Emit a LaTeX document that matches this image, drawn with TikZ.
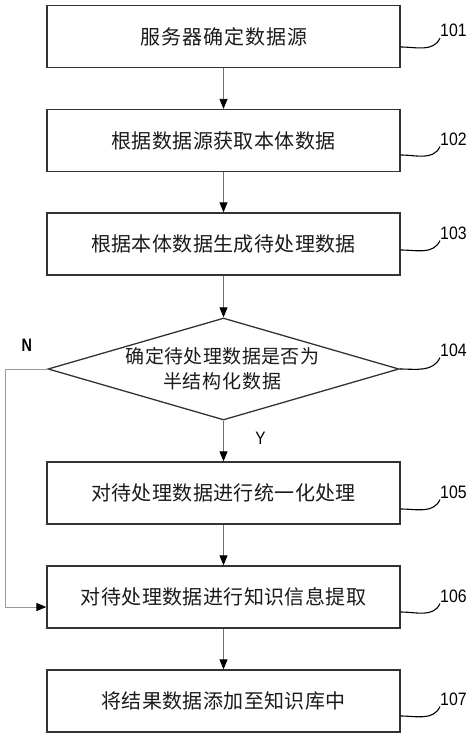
\documentclass[tikz,border=0pt]{standalone}
\usepackage{fontspec}
\setmainfont{Liberation Sans}
\newfontfamily\cjk{Noto Sans CJK SC}
\usetikzlibrary{shapes.geometric,arrows.meta}
\definecolor{boxc}{HTML}{333333}
\definecolor{linec}{HTML}{707070}
\definecolor{nlinec}{HTML}{9A9A9A}
\definecolor{txtc}{HTML}{1A1A1A}
\newlength\lsamt
\def\lsp#1#2{\setlength\lsamt{#1}\lspA#2\relax}
\def\lspA#1{\ifx#1\relax\unskip\else#1\hspace{\lsamt}\expandafter\lspA\fi}
\newcommand\numtxt[1]{\scalebox{0.88}[1]{#1}}
\begin{document}
\begin{tikzpicture}[x=1pt,y=-1pt,
  box/.style={draw=boxc,line width=1.3pt,minimum width=353pt,minimum height=62pt,inner sep=0pt,text=txtc,font=\fontsize{20}{24}\cjk},
  dia/.style={draw=boxc,line width=1.3pt,diamond,minimum width=351pt,minimum height=102pt,inner sep=0pt},
  dtxt/.style={inner sep=0pt,align=center,text=txtc,font=\fontsize{19}{25.5}\cjk},
  num/.style={font=\fontsize{18}{20}\selectfont,anchor=west,inner sep=0pt},
  yn/.style={font=\fontsize{18}{20}\selectfont,inner sep=0pt},
  arr/.style={draw=linec,line width=0.9pt,-{Triangle[length=10pt,width=8pt,color=black]}},
  narr/.style={draw=nlinec,line width=0.9pt,-{Triangle[length=10pt,width=8pt,color=black]}},
  leader/.style={draw=black,line width=1.1pt}]
\useasboundingbox (0,0) rectangle (474,738);

\node[box] (b1) at (223.5,36.5) {\lsp{1.0pt}{服务器确定数据源}};
\node[box] (b2) at (223.5,140.5) {\lsp{0.4pt}{根据数据源获取本体数据}};
\node[box] (b3) at (223.5,244) {\lsp{0.4pt}{根据本体数据生成待处理数据}};
\node[dia] (d) at (223.5,369) {};
\node[dtxt] (dt) at (222.5,368.5) {\lsp{0.4pt}{确定待处理数据是否为}\\\lsp{1.0pt}{半结构化数据}};
\node[box] (b5) at (223.5,493) {\lsp{0.4pt}{对待处理数据进行统一化处理}};
\node[box] (b6) at (223.5,597) {\lsp{0.4pt}{对待处理数据进行知识信息提取}};
\node[box] (b7) at (223.5,701) {\lsp{0.4pt}{将结果数据添加至知识库中}};

\node[num] (l1) at (440,30.5) {\numtxt{101}};
\node[num] (l2) at (440,139) {\numtxt{102}};
\node[num] (l3) at (440,233) {\numtxt{103}};
\node[num] (l4) at (440,350) {\numtxt{104}};
\node[num] (l5) at (440,492) {\numtxt{105}};
\node[num] (l6) at (440,596) {\numtxt{106}};
\node[num] (l7) at (440,699) {\numtxt{107}};

\node[yn,font=\fontsize{18}{20}\bfseries] (n) at (26.7,345.7) {\scalebox{0.8}[1]{N}};
\node[yn] (y) at (260.5,438.7) {\scalebox{0.85}[1]{Y}};

\draw[arr] (b1) -- (b2);
\draw[arr] (b2) -- (b3);
\draw[arr] (b3) -- (d);
\draw[arr] (d.south) -- (b5);
\draw[arr] (b5) -- (b6);
\draw[arr] (b6) -- (b7);
\draw[narr] (d.west) -- ++(-42,0) |- ([yshift=-10pt]b6.west);

\draw[leader] ([yshift=-10.5pt]b1.east) to[out=0,in=-115] ([yshift=-1pt]l1.south west);
\draw[leader] ([yshift=-14.5pt]b2.east) to[out=0,in=-115] ([yshift=-1pt]l2.south west);
\draw[leader] ([yshift=-6pt]b3.east) to[out=0,in=-115] ([yshift=-1pt]l3.south west);
\draw[leader] (d.east) to[out=0,in=-115] ([yshift=-1pt]l4.south west);
\draw[leader] ([yshift=-16pt]b5.east) to[out=0,in=-115] ([yshift=-1pt]l5.south west);
\draw[leader] ([yshift=-15pt]b6.east) to[out=0,in=-115] ([yshift=-1pt]l6.south west);
\draw[leader] ([yshift=-15pt]b7.east) to[out=0,in=-115] ([yshift=-1pt]l7.south west);
\end{tikzpicture}
\end{document}
